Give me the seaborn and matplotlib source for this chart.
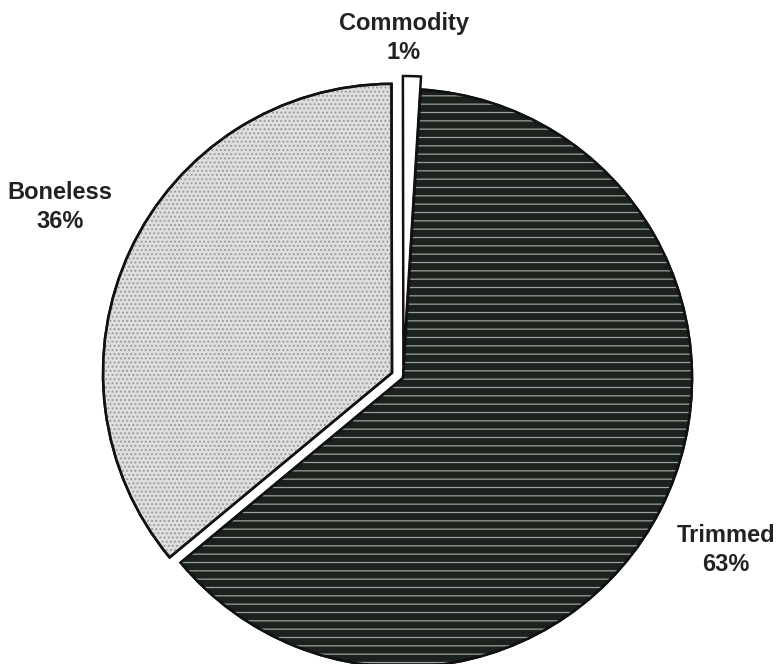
import seaborn as sns
import matplotlib.pyplot as plt
from matplotlib.patches import Wedge

sns.set_theme(style="white")
plt.rcParams["font.family"] = ["Liberation Sans", "DejaVu Sans"]
plt.rcParams["hatch.linewidth"] = 0.9

categories = ["Trimmed", "Boneless", "Commodity"]
shares = [63, 36, 1]
explode = [0.0, 0.042, 0.045]
fills = ["#1b211c", "#dedede", "#ffffff"]
hatches = ["--", "....", None]
hatch_colors = ["#9aa09a", "#9a9a9a", None]

fig = plt.figure(figsize=(7.79, 6.64), dpi=100)
# pie centre ~ (403, 378) px, radius ~289 px
ax = fig.add_axes([(403 - 289) / 779, (286 - 289) / 664, 578 / 779, 578 / 664])

wedges, _ = ax.pie(
    shares,
    explode=explode,
    colors=fills,
    startangle=86.5,
    counterclock=False,
    radius=1.0,
    wedgeprops=dict(edgecolor="#111111", linewidth=1.8),
)

# hatch overlays so the pattern gets its own colour
for w, h, hc in zip(wedges, hatches, hatch_colors):
    if h is None:
        continue
    ov = Wedge(w.center, w.r, w.theta1, w.theta2, facecolor="none",
               edgecolor=hc, hatch=h, linewidth=0)
    ax.add_patch(ov)
    w.set_zorder(1)
    ov.set_zorder(2)
    edge = Wedge(w.center, w.r, w.theta1, w.theta2, facecolor="none",
                 edgecolor="#111111", linewidth=1.8, zorder=3)
    ax.add_patch(edge)

ax.set_xlim(-1, 1)
ax.set_ylim(-1, 1)
ax.set_aspect("equal")
ax.axis("off")
for p in ax.patches:
    p.set_clip_on(False)

label_pos = {"Commodity": (404, 38), "Boneless": (60, 207), "Trimmed": (726, 550)}
for cat, val in zip(categories, shares):
    x, y = label_pos[cat]
    fig.text(x / 779, 1 - y / 664, f"{cat}\n{val}%", ha="center", va="center",
             fontsize=17, fontweight="bold", color="#222222", linespacing=1.3)

fig.savefig("out.png", dpi=100, facecolor="white")
